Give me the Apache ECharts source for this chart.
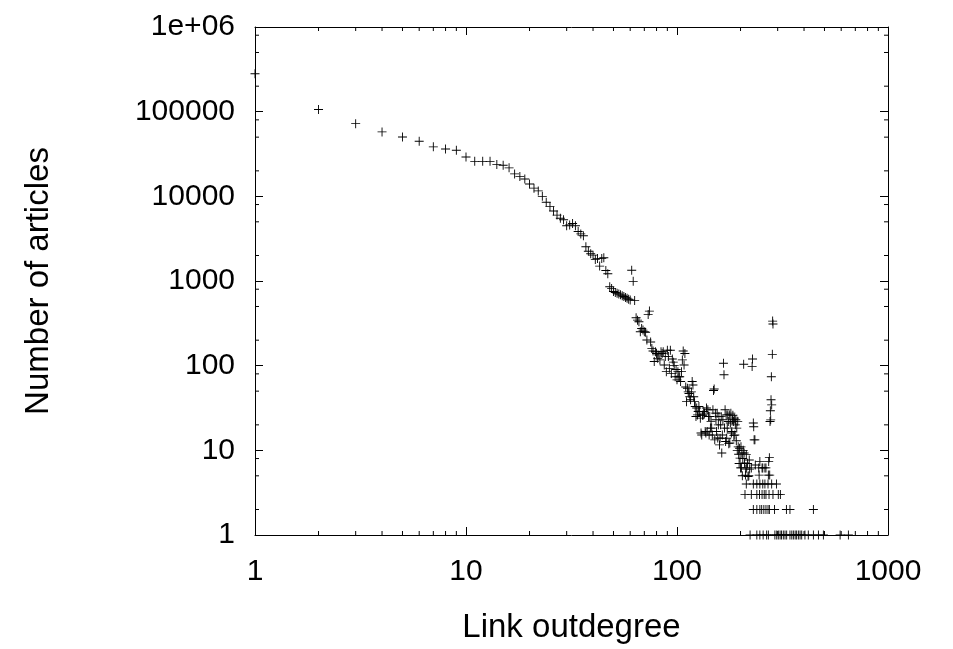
<!DOCTYPE html>
<html>
<head>
<meta charset="utf-8">
<script src="https://cdn.jsdelivr.net/npm/echarts@6/dist/echarts.min.js"></script>
<style>html,body{margin:0;padding:0;background:#fff}#c{width:953px;height:649px}</style>
</head>
<body>
<div id="c"></div>
<script>
// ---- data (link outdegree vs number of articles) ----
const headDegree = [1,2,3,4,5,6,7,8,9,10,11,12,13,14,15,16,17,18,19,20,21,22,23,24,25,26,27,28,29,30,31,32,33,34,35,36,37,38,39,40,41,42,43,44,45,46,47,48,49,50,51,52,53,54,55,56,57,58,59,60,61,62,63,64,65,66,67,68,69,70,71,72];
const headArticles = [281000,106000,72200,57700,50300,44700,38400,36300,35000,29200,25900,25900,25900,23700,23300,21700,18400,17200,16000,14000,12500,11600,10000,8500,7600,6700,6000,5500,5300,4500,4600,4780,4490,3850,3600,3420,2540,2250,2100,2020,1800,1850,1500,1850,1880,1330,1220,856,818,752,730,718,700,686,670,655,640,625,610,597,1340,990,590,368,345,330,252,275,263,252,248,201];

const midDegree = [73,74,75,76,77,78,79,80,81,82,83,84,85,86,87,88,89,90,91,92,93,94,95,96,97,98,99,100,101,102,103,104,105,106,107,108,109,110];
const midArticles = [403,441,190,160,149,112,146,139,122,134,117,146,139,146,102,128,85,152,128,93,152,81,120,110,100,74,90,68,85,74,74,65,85,117,149,102,139,56];

const scatterDegree = [111,112,113,114,115,116,117,118,119,120,121,122,123,124,125,126,127,128,129,130,131,132,133,134,135,136,137,138,139,140,141,142,143,144,145,146,147,148,149,150,151,152,153,154,155,156,157,158,159,160,161,162,163,164,165,166,167,168,169,170,171,172,173,174,175,176,177,178,179,180,181,182,183,184,185,186,187,188,189,190,191,192,193,194,195,196,197,198,199,200];
const scatterArticles = [37.6,54,49,47,43,39.5,49,65,59,43,37.6,33,25.1,31.6,26.2,28.8,33,28.8,24,16,15.2,26,26.2,28.8,27.5,16.7,16,31.6,16.7,30.1,25.1,15.2,25.1,18.3,22,18.3,15.2,30.1,51,53,13.3,27.5,23,16.7,27.5,14,20,25,11.6,13.9,20,25,9.3,15.2,23,107,78,18.3,30.1,12.7,26.2,13.9,18.3,26.2,21.9,12,26.2,12.2,21,27.5,16,16.7,23,26,21.9,15,24,15.2,20,23,13,18.3,10,22,11,9,7,10.6,8.1,6.2];

const tailDegree = [201,202,203,204,205,206,207,208,209,211,212,213,214,216,217,219,220,221,225,227,228,230,231,232,234,235,244,245,247,253,255,261,264,271,272,274,275,276,277,278,279,280,281,283,284,285];
const tailArticles = [11,6.2,9.3,5,8,10,104,9.3,7.1,5.1,6,8.9,6.2,7,4.9,5,7.7,6,6.2,98,120,21,19,13.3,13.3,6.7,6.2,5.1,7.4,6.2,6.2,6.2,6.2,5.1,7.4,8.2,5.1,21.9,29.3,22.9,39.5,74,34.4,136,336,310];

const row4Degree = [213,230,239,247,255,261,270,281,296];
const row3Degree = [210,225,239,246,253,259,264,273,285,302,309];
const row2Degree = [230,239,247,252,258,264,270,274,290,330,343,443];
const row1Degree = [222,239,247,256,266,271,291,297,302,308,313,319,325,331,343,350,356,363,369,376,383,390,404,419,443,468,494,593,649];

const xTickLabels = ['1','10','100','1000'];
const yTickLabels = ['1','10','100','1000','10000','100000','1e+06'];
const xMinorTicks = [2,3,4,5,6,7,8,9,20,30,40,50,60,70,80,90,200,300,400,500,600,700,800,900];
const yMinorTicks = [2,5,8,20,50,80,200,500,800,2000,5000,8000,20000,50000,80000,200000,500000,800000];

// ---- build points ----
const points = [];
function addPairs(xs, ys){ xs.forEach((x,i)=>points.push([x, ys[i]])); }
function addRow(xs, y){ xs.forEach(x=>points.push([x, y])); }
addPairs(headDegree, headArticles);
addPairs(midDegree, midArticles);
addPairs(scatterDegree, scatterArticles);
addPairs(tailDegree, tailArticles);
addRow(row4Degree, 4);
addRow(row3Degree, 3);
addRow(row2Degree, 2);
addRow(row1Degree, 1);

const FONT = '"Liberation Sans", Arial, Helvetica, sans-serif';
const X_MIN = 1, X_MAX = 1000, Y_MIN = 1, Y_MAX = 1e6;

function labelFmt(list){
  return function(v){
    const e = Math.round(Math.log10(v));
    return list[e] !== undefined ? list[e] : '';
  };
}

const baseX = {
  type: 'log', logBase: 10, min: X_MIN, max: X_MAX, interval: 1,
  axisLine: { show: true, onZero: false, lineStyle: { color: '#000', width: 1 } },
  axisTick: { show: true, inside: true, length: 8, lineStyle: { color: '#000', width: 1 } },
  minorTick: { show: false },
  splitLine: { show: false }
};
const baseY = {
  type: 'log', logBase: 10, min: Y_MIN, max: Y_MAX, interval: 1,
  axisLine: { show: true, onZero: false, lineStyle: { color: '#000', width: 1 } },
  axisTick: { show: true, inside: true, length: 8, lineStyle: { color: '#000', width: 1 } },
  minorTick: { show: false },
  splitLine: { show: false }
};

const chart = echarts.init(document.getElementById('c'), null, { renderer: 'canvas' });
chart.setOption({
  animation: false,
  backgroundColor: '#fff',
  grid: { left: 255, right: 65, top: 27, bottom: 112, containLabel: false },
  xAxis: [
    Object.assign({}, baseX, {
      position: 'bottom',
      name: 'Link outdegree', nameLocation: 'middle', nameGap: 76,
      nameTextStyle: { fontFamily: FONT, fontSize: 33, color: '#000' },
      axisLabel: { show: true, margin: 22, fontFamily: FONT, fontSize: 30, color: '#000', formatter: labelFmt(xTickLabels) }
    }),
    Object.assign({}, baseX, { position: 'top', axisLabel: { show: false } })
  ],
  yAxis: [
    Object.assign({}, baseY, {
      position: 'left',
      name: 'Number of articles', nameLocation: 'middle', nameGap: 200,
      nameTextStyle: { fontFamily: FONT, fontSize: 33, color: '#000' },
      axisLabel: { show: true, margin: 20, fontFamily: FONT, fontSize: 30, color: '#000', formatter: labelFmt(yTickLabels) }
    }),
    Object.assign({}, baseY, { position: 'right', axisLabel: { show: false } })
  ],
  series: [
    {
      type: 'custom',
      coordinateSystem: 'cartesian2d',
      silent: true, z: 1,
      data: xMinorTicks.map(v => [v, Y_MIN]),
      renderItem: function(params, api){
        const v = api.value(0);
        const b = api.coord([v, Y_MIN]);
        const t = api.coord([v, Y_MAX]);
        const st = { stroke: '#000', lineWidth: 1 };
        return { type: 'group', children: [
          { type: 'line', shape: { x1: b[0], y1: b[1], x2: b[0], y2: b[1] - 4 }, style: st },
          { type: 'line', shape: { x1: t[0], y1: t[1], x2: t[0], y2: t[1] + 4 }, style: st }
        ]};
      }
    },
    {
      type: 'custom',
      coordinateSystem: 'cartesian2d',
      silent: true, z: 1,
      data: yMinorTicks.map(v => [X_MIN, v]),
      renderItem: function(params, api){
        const v = api.value(1);
        const l = api.coord([X_MIN, v]);
        const r = api.coord([X_MAX, v]);
        const st = { stroke: '#000', lineWidth: 1 };
        return { type: 'group', children: [
          { type: 'line', shape: { x1: l[0], y1: l[1], x2: l[0] + 4, y2: l[1] }, style: st },
          { type: 'line', shape: { x1: r[0], y1: r[1], x2: r[0] - 4, y2: r[1] }, style: st }
        ]};
      }
    },
    {
      type: 'scatter',
      data: points,
      clip: false,
      symbol: 'path://M0,4.5H10V5.5H0ZM4.5,0H5.5V10H4.5Z',
      symbolSize: 9,
      itemStyle: { color: '#000', opacity: 1 },
      z: 3
    }
  ]
});
</script>
</body>
</html>
